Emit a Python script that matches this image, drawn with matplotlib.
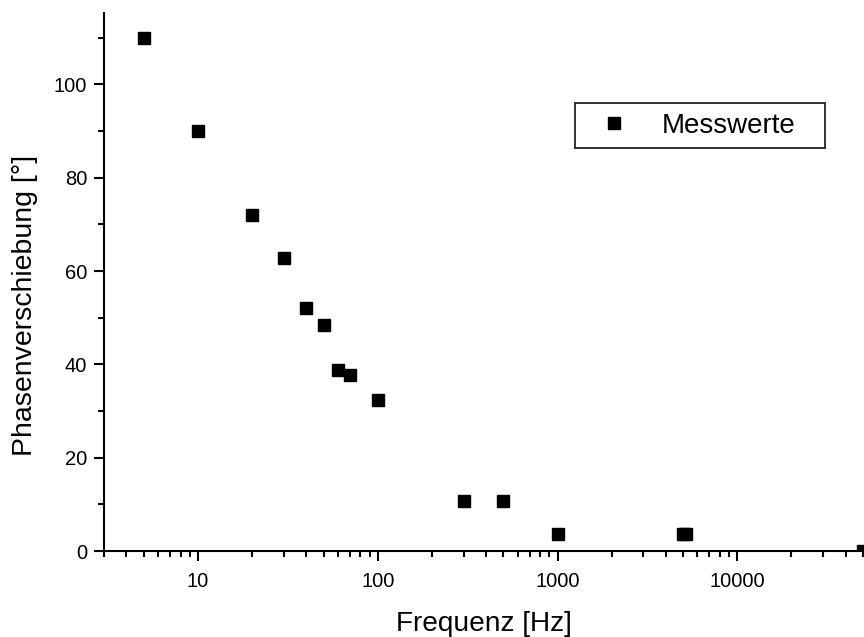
#!/usr/bin/env python3
import matplotlib

matplotlib.use("Agg")
import matplotlib.pyplot as plt  # noqa: E402
from matplotlib.ticker import FixedLocator, NullFormatter  # noqa: E402

# -------------------------------
# Data
# -------------------------------
freq_hz = [5, 10, 20, 30, 40, 50, 60, 70, 100, 300, 500, 1000, 5000, 5150, 50000]
phase_deg = [110, 90, 72, 62.7, 52, 48.5, 38.7, 37.8, 32.4, 10.7, 10.7, 3.6, 3.6, 3.6, 0]

x_major = [10, 100, 1000, 10000]
x_major_labels = ["10", "100", "1000", "10000"]
y_major = [0, 20, 40, 60, 80, 100]
y_minor = [10, 30, 50, 70, 90, 110]


def main():
    plt.rcParams["font.family"] = ["Liberation Sans", "DejaVu Sans"]

    fig = plt.figure(figsize=(8.64, 6.37), dpi=100)
    ax = fig.add_axes([0.1204, 0.135, 0.8784, 0.8446])

    ax.plot(freq_hz, phase_deg, linestyle="none", marker="s", markersize=8.5,
            color="black", label="Messwerte")

    ax.set_xscale("log")
    ax.set_xlim(3, 50000)
    ax.set_ylim(0, 115.3)

    ax.set_xticks(x_major)
    ax.set_xticklabels(x_major_labels)
    minor_x = [m * 10 ** e for e in range(0, 5) for m in range(2, 10) if 3 <= m * 10 ** e <= 50000]
    ax.xaxis.set_minor_locator(FixedLocator(minor_x))
    ax.xaxis.set_minor_formatter(NullFormatter())
    ax.set_yticks(y_major)
    ax.yaxis.set_minor_locator(FixedLocator(y_minor))

    for side in ["top", "right"]:
        ax.spines[side].set_visible(False)
    for side in ["left", "bottom"]:
        ax.spines[side].set_linewidth(1.5)

    ax.tick_params(which="major", direction="out", length=7.2, width=1.5, labelsize=14.5, pad=5)
    ax.tick_params(which="minor", direction="out", length=4.5, width=1.5)
    ax.tick_params(axis="x", which="major", pad=8)

    ax.set_xlabel("Frequenz [Hz]", fontsize=20.2, labelpad=14)
    ax.set_ylabel("Phasenverschiebung [°]", fontsize=20.5)
    ax.yaxis.set_label_coords(-0.0876, 0.457)

    # legend box spans a fixed width, like the original
    leg = ax.legend(loc="upper left", bbox_to_anchor=(0.6206, 0.8327, 0.3294, 0.0),
                    mode="expand", fontsize=20, frameon=True, fancybox=False,
                    edgecolor="black", handlelength=2.1, handletextpad=0.68,
                    borderpad=0.35, borderaxespad=0, markerscale=1.0)
    leg.get_frame().set_linewidth(1.4)

    fig.savefig("out.png", dpi=100)
    plt.close(fig)


if __name__ == "__main__":
    main()
